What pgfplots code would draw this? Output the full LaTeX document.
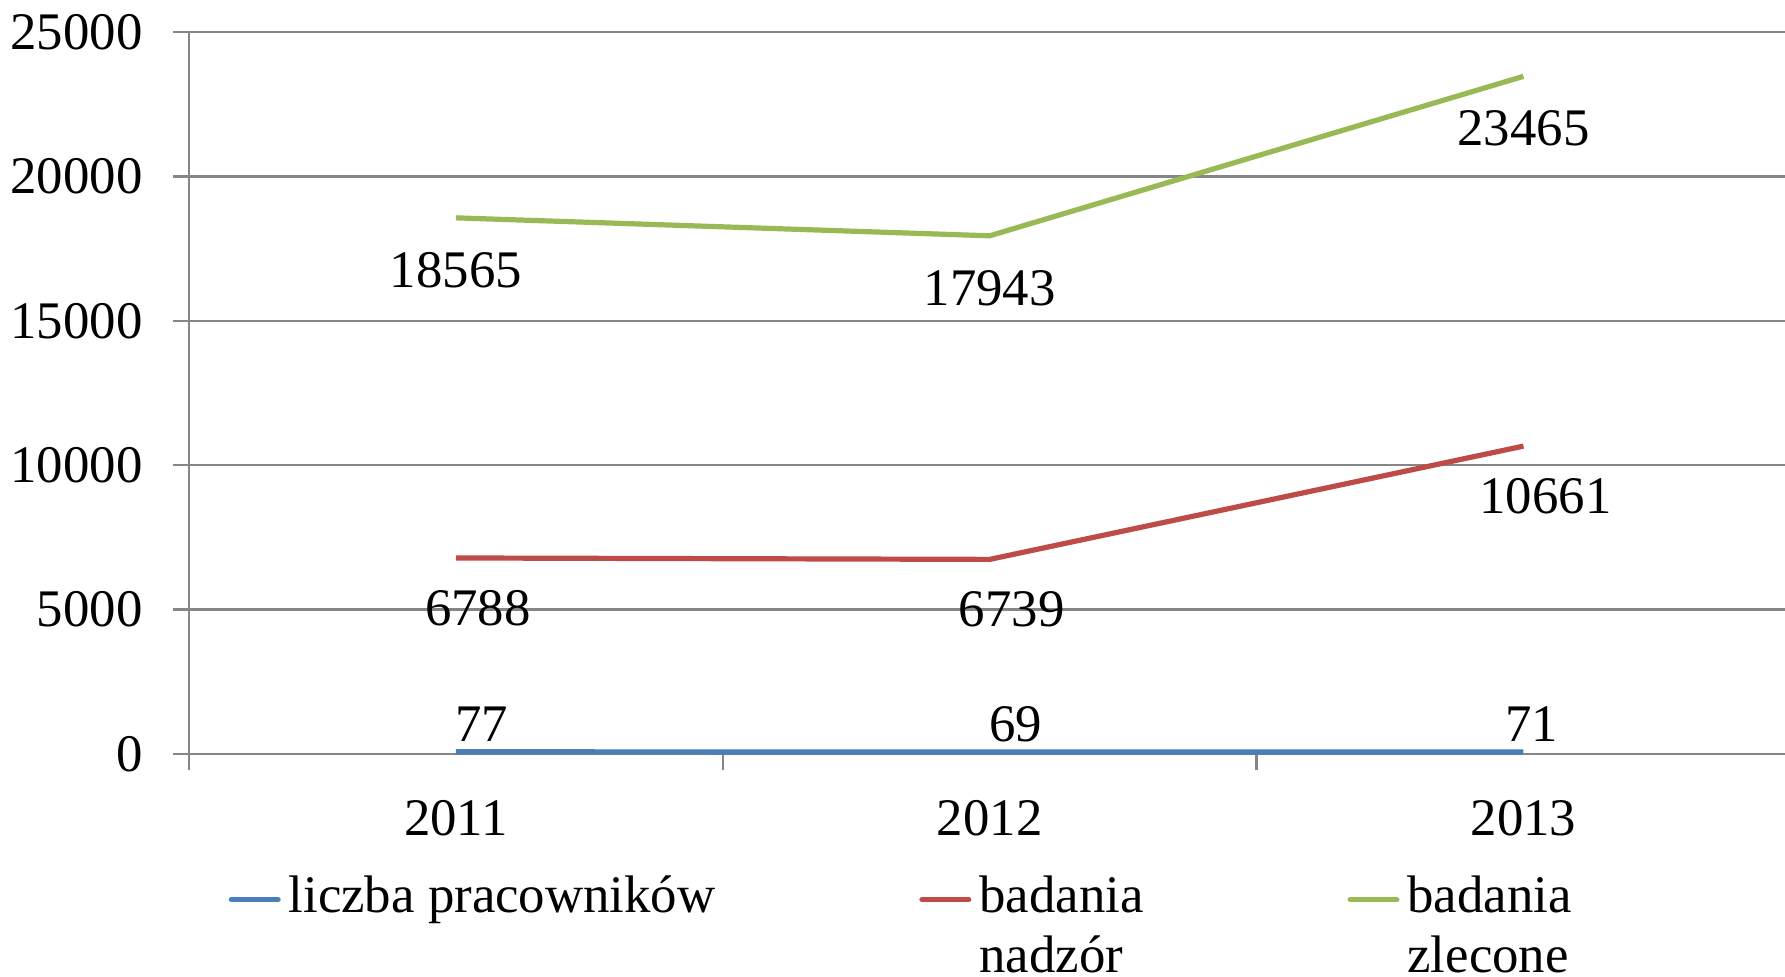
\documentclass[border=0pt]{standalone}
\usepackage{fontspec}
\setmainfont{Liberation Serif}
\usepackage{pgfplots}
\pgfplotsset{compat=1.18}
\definecolor{sblue}{HTML}{4A7EBB}
\definecolor{sred}{HTML}{BE4B48}
\definecolor{sgreen}{HTML}{98B954}
\definecolor{gridgray}{HTML}{868686}
\begin{document}
\fontsize{13.2pt}{15pt}\selectfont
\begin{tikzpicture}
\begin{axis}[
  at={(0,0)}, anchor=south west,
  scale only axis, width=399pt, height=180.5pt,
  xmin=0.5, xmax=3.49, ymin=0, ymax=25000,
  clip=false,
  axis x line*=bottom, axis y line*=left,
  axis line style={draw=gridgray, line width=0.6pt, -},
  xtick={0.5,1.5,2.5}, xticklabels={},
  extra x ticks={1,2,3},
  extra x tick labels={2011,2012,2013},
  extra x tick style={major tick length=0pt, xticklabel style={yshift=-7pt}},
  ytick={0,5000,10000,15000,20000,25000},
  scaled y ticks=false,
  ymajorgrids, grid style={draw=gridgray, line width=0.6pt},
  tick style={draw=gridgray, line width=0.6pt},
  tick align=outside, major tick length=4pt,
  /pgf/number format/1000 sep={},
  /pgf/number format/assume math mode=true,
  tick label style={font=\fontsize{13.2pt}{15pt}\selectfont},
  yticklabel style={xshift=-3pt},
  legend style={draw=none, fill=none, at={(0.0244,-0.149)}, anchor=north west,
    inner sep=0pt, font=\fontsize{13.2pt}{15pt}\selectfont,
    cells={anchor=base west},
    /tikz/every even column/.append style={column sep=49pt}},
  legend columns=3,
  legend image code/.code={\draw[#1, line width=1.4pt, line cap=round] (0.6pt,3.2pt) -- (12.2pt,3.2pt);},
  nodes near coords,
  nodes near coords style={font=\fontsize{13.2pt}{15pt}\selectfont, text=black},
]
\addplot[sblue, line width=1.3pt, mark=none,
  visualization depends on={\thisrow{dx} \as \dx},
  every node near coord/.append style={anchor=center, yshift=7pt, xshift=\dx pt}]
  table[x=x, y=y] {
  x y dx
  1 77 6.5
  2 69 6.5
  3 71 2
  };
\addlegendentry{liczba pracowników}
\addplot[sred, line width=1.3pt, mark=none,
  every node near coord/.append style={anchor=center, yshift=-12.5pt, xshift=5.5pt}]
  coordinates {(1,6788) (2,6739) (3,10661)};
\addlegendentry{\begin{tabular}[t]{@{}l@{}}badania\\nadzór\end{tabular}}
\addplot[sgreen, line width=1.3pt, mark=none,
  every node near coord/.append style={anchor=center, yshift=-13pt, xshift=0pt}]
  coordinates {(1,18565) (2,17943) (3,23465)};
\addlegendentry{\begin{tabular}[t]{@{}l@{}}badania\\zlecone\end{tabular}}
\end{axis}
\pgfresetboundingbox
\path[use as bounding box] (-47.25pt,-55.5pt) rectangle (399pt,188.5pt);
\end{tikzpicture}
\end{document}
